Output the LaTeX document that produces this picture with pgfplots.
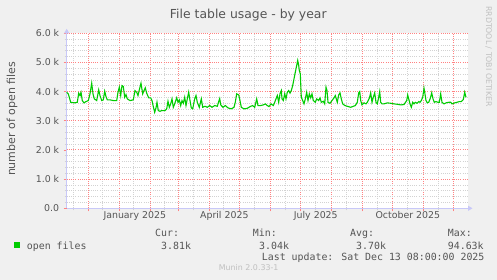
\documentclass[border=0pt]{standalone}
\usepackage{fontspec}
\setmainfont{DejaVu Sans}
\newfontfamily\monof{DejaVu Sans Mono}
\usepackage{pgfplots}
\pgfplotsset{compat=1.18}
\usetikzlibrary{arrows.meta}
\definecolor{bgc}{HTML}{F0F0F0}
\definecolor{txt}{HTML}{555555}
\definecolor{majg}{HTML}{FF8282}
\definecolor{ming}{HTML}{D2D2D2}
\definecolor{axc}{HTML}{C8C8F8}
\definecolor{lin}{HTML}{00CC00}
\definecolor{wm}{HTML}{C0C0C0}
\begin{document}
\begin{tikzpicture}
\path[use as bounding box] (0bp,0bp) rectangle (497bp,280bp);
\fill[bgc] (0bp,0bp) rectangle (497bp,280bp);
\begin{axis}[
  at={(66.7bp,71.7bp)}, anchor=south west,
  scale only axis, width=401.3bp, height=175bp,
  xmin=-21.6, xmax=379.7, ymin=0, ymax=6000,
  axis background/.style={fill=white},
  axis x line*=bottom, axis y line*=left,
  axis line style={axc, line width=0.9bp},
  x axis line style={-{Triangle[length=4.5bp,width=5bp]}, shorten >=-4.5bp},
  y axis line style={-{Triangle[length=4.5bp,width=5bp]}, shorten >=-4.5bp},
  xtick={0,31,62,90,121,151,182,212,243,274,304,335,365},
  xticklabels={},
  minor xtick={-15,14,45,76,105,135,166,197,227,258,289,319,350},
  extra x ticks={46.5,136,227.5,319.5},
  extra x tick labels={January 2025,April 2025,July 2025,October 2025},
  extra x tick style={grid=none, major tick length=0pt},
  ytick={0,1000,2000,3000,4000,5000,6000},
  yticklabels={0.0,1.0 k,2.0 k,3.0 k,4.0 k,5.0 k,6.0 k},
  minor y tick num=4,
  grid=both,
  major grid style={majg, dash pattern=on 1bp off 1.2bp, line width=1bp},
  minor grid style={ming, dash pattern=on 1bp off 1.2bp, line width=0.8bp},
  tick align=outside,
  major tick length=3bp, minor tick length=2bp,
  major tick style={majg, line width=0.8bp},
  minor tick style={ming, line width=0.8bp},
  tick label style={font=\fontsize{9.4bp}{11bp}\selectfont, text=txt},
  yticklabel style={xshift=-1bp},
  clip=false,
]
\addplot[lin, line width=1.1bp] coordinates {
(-21.6,3979)(-20.0,3924)(-17.6,3635)(-13.3,3615)(-11.0,3635)(-9.6,3945)(-8.3,3866)(-7.3,3979)
(-6.0,3694)(-4.3,3615)(-2.3,3659)(0,3694)(1.7,3924)(3.4,4288)(4.7,3924)(6.0,3752)(8.4,3694)
(10.4,4061)(11.7,3866)(13.4,3694)(15.0,3718)(16.4,4013)(17.7,3831)(19.0,3718)(21.7,3718)
(25.0,3694)(28.4,3694)(29.7,3979)(31.0,4151)(32.4,3866)(33.7,4209)(35.0,4175)(36.4,3807)
(37.7,3900)(39.0,3752)(41.7,3694)(45.0,3718)(46.7,4037)(48.4,3979)(49.7,3866)(51.0,4061)
(52.7,4288)(54.4,3924)(55.7,4037)(57.0,4130)(58.4,3945)(60.4,3786)(62.4,3786)(63.7,3694)
(65.0,3488)(66.4,3292)(67.7,3443)(68.7,3635)(70.0,3350)(71.7,3326)(73.4,3350)(76.7,3350)
(78.4,3409)(79.7,3670)(81.0,3463)(82.4,3580)(83.7,3752)(85.0,3463)(86.4,3580)(88.4,3786)
(89.7,3635)(91.0,3718)(92.4,3522)(93.7,3694)(95.0,3601)(96.4,3807)(97.7,3522)(99.0,3752)
(100.4,3979)(101.7,3694)(103.0,3443)(104.4,3409)(106.4,3752)(107.7,3866)(109.0,3635)
(111.0,3463)(113.0,3752)(114.4,3463)(116.7,3498)(119.0,3463)(121.4,3522)(123.7,3463)
(126.4,3522)(129.0,3498)(130.4,3659)(131.4,3762)(132.4,3546)(134.7,3463)(137.0,3522)
(139.7,3443)(143.0,3409)(145.7,3463)(147.0,3635)(148.4,3924)(150.4,3890)(151.7,3694)
(153.0,3463)(155.7,3409)(159.0,3429)(162.4,3498)(164.4,3522)(166.4,3463)(168.4,3752)
(169.7,3522)(172.4,3522)(175.0,3546)(177.0,3580)(179.0,3522)(180.7,3488)(182.7,3580)
(185.0,3522)(186.4,3635)(187.7,3752)(189.0,3866)(190.4,3635)(191.7,3924)(193.0,4037)
(193.7,3752)(195.0,3694)(196.4,3924)(197.7,3752)(199.0,3979)(200.4,4037)(201.7,3945)
(203.0,4037)(204.4,4209)(205.7,4439)(207.0,4666)(208.4,4896)(209.4,5068)(210.4,4896)
(211.0,4725)(212.0,4611)(213.0,3807)(214.4,3694)(215.7,3580)(217.0,3752)(218.4,3979)
(219.7,3694)(221.0,3924)(222.4,3786)(223.7,3924)(225.0,3694)(227.0,3635)(228.4,3752)
(230.4,3694)(231.7,3786)(233.0,3635)(235.0,3670)(236.4,3580)(237.7,4151)(238.7,4037)
(239.7,3635)(241.7,3601)(243.7,3694)(245.7,3786)(247.0,3866)(249.0,3635)(250.4,3890)
(251.7,3958)(253.0,3752)(254.4,3580)(256.7,3522)(259.0,3498)(262.4,3463)(265.0,3498)
(267.0,3522)(269.0,3635)(270.4,3958)(271.4,4003)(272.4,3694)(273.7,3546)(275.7,3615)
(277.7,3580)(279.0,3635)(281.0,3773)(282.4,3958)(283.7,3635)(285.0,3807)(286.4,3958)
(287.7,3635)(289.0,3580)(290.4,3807)(291.4,4003)(292.4,3635)(293.7,3580)(295.7,3580)
(299.0,3615)(302.4,3601)(305.7,3580)(309.0,3567)(312.4,3546)(315.7,3556)(318.4,3694)
(319.4,3890)(320.4,3752)(321.7,3580)(323.0,3463)(324.4,3635)(325.7,3580)(327.0,3635)
(328.7,3601)(330.4,3659)(331.7,3635)(333.0,3694)(334.4,3807)(335.7,4116)(336.4,3979)
(337.7,3694)(339.0,3615)(340.4,3635)(342.0,3773)(343.4,3958)(344.7,3752)(346.0,3635)
(347.7,3659)(349.7,3635)(351.0,3635)(352.4,3924)(353.7,3635)(355.7,3580)(357.7,3615)
(360.4,3635)(362.4,3635)(363.7,3580)(366.4,3615)(368.7,3635)(371.0,3659)(373.0,3659)
(375.0,3728)(376.4,3979)(377.7,3807)
};
\end{axis}
\node[anchor=base, text=txt, font=\fontsize{12.4bp}{14bp}\selectfont] at (248.3bp,261.7bp) {File table usage - by year};
\node[anchor=base, rotate=90, text=txt, font=\fontsize{11bp}{13bp}\selectfont] at (15bp,161bp) {number of open files};
\node[anchor=base west, rotate=-90, text=wm, font=\fontsize{7.8bp}{9bp}\selectfont, inner sep=0pt] at (486bp,274bp) {RRDTOOL / TOBI OETIKER};
\fill[lin] (14bp,31.7bp) rectangle (20bp,37.7bp);
\begin{scope}[every node/.style={anchor=base west, inner sep=0pt, text=txt, font=\monof\fontsize{9.9bp}{11bp}\selectfont}]
\node at (26.7bp,31bp) {open files};
\node at (155bp,43.3bp) {Cur:};
\node at (161bp,31bp) {3.81k};
\node at (252.7bp,43.3bp) {Min:};
\node at (259bp,31bp) {3.04k};
\node at (350bp,43.3bp) {Avg:};
\node at (356bp,31bp) {3.70k};
\node at (447.7bp,43.3bp) {Max:};
\node at (447.7bp,31bp) {94.63k};
\node at (261.7bp,19.3bp) {Last update: Sat Dec 13 08:00:00 2025};
\end{scope}
\node[anchor=base west, inner sep=0pt, text=wm, font=\fontsize{7.9bp}{9bp}\selectfont] at (218.7bp,9.3bp) {Munin 2.0.33-1};
\end{tikzpicture}
\end{document}
